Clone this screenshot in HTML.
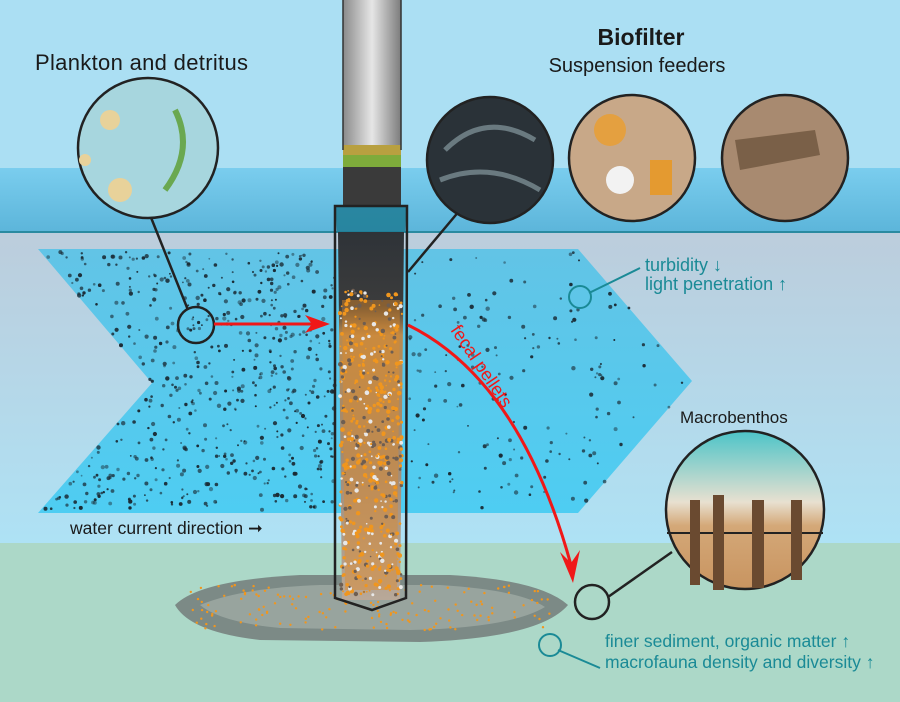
<!DOCTYPE html>
<html><head><meta charset="utf-8"><style>
body{margin:0;width:900px;height:702px;overflow:hidden;font-family:"Liberation Sans",sans-serif}
svg{display:block}
</style></head><body>
<svg id="s" width="900" height="702" viewBox="0 0 900 702" xmlns="http://www.w3.org/2000/svg">
<defs>
<linearGradient id="wat" x1="0" y1="0" x2="0" y2="1"><stop offset="0" stop-color="#bccddc"/><stop offset="1" stop-color="#aee2f5"/></linearGradient>
<linearGradient id="band" x1="0" y1="0" x2="0" y2="1"><stop offset="0" stop-color="#7acdee"/><stop offset="1" stop-color="#5cb5da"/></linearGradient>
<linearGradient id="arr" x1="0" y1="0" x2="0" y2="1"><stop offset="0" stop-color="#62c4e6"/><stop offset="1" stop-color="#4ecdf2"/></linearGradient>
<linearGradient id="pile" x1="0" y1="0" x2="1" y2="0"><stop offset="0" stop-color="#8a8a8a"/><stop offset=".5" stop-color="#e6e6e6"/><stop offset="1" stop-color="#7c7c7c"/></linearGradient>
<linearGradient id="fill" x1="0" y1="0" x2="0" y2="1"><stop offset="0" stop-color="#2e3338"/><stop offset=".2" stop-color="#3c3c3c"/><stop offset=".28" stop-color="#b88a50"/><stop offset=".6" stop-color="#a08a74"/><stop offset="1" stop-color="#b8a898"/></linearGradient>
<linearGradient id="mb" x1="0" y1="0" x2="0" y2="1"><stop offset="0" stop-color="#4cc4c8"/><stop offset=".45" stop-color="#e8e0d0"/><stop offset=".6" stop-color="#d4a878"/><stop offset="1" stop-color="#c89460"/></linearGradient>
</defs>
<rect width="900" height="702" fill="#abdff3"/>
<rect y="168" width="900" height="64" fill="url(#band)"/>
<rect y="232" width="900" height="312" fill="url(#wat)"/>
<line x1="0" y1="232" x2="900" y2="232" stroke="#2a8aa0" stroke-width="2"/>
<rect y="543" width="900" height="160" fill="#acd8c8"/>
<polygon points="38,249 578,249 692,381 578,513 38,513 152,383" fill="url(#arr)"/>
<g id="dots"></g>
<!-- rubble -->
<path d="M175 605 Q200 580 300 575 L450 575 Q540 580 568 605 Q540 638 420 642 L260 640 Q190 632 175 605 Z" fill="#7c8a86"/>
<path d="M200 605 Q240 588 320 585 L440 585 Q520 590 545 607 Q510 628 410 630 L280 628 Q220 622 200 605 Z" fill="#98a49e"/>
<g id="orng"></g>
<!-- pile -->
<rect x="343" y="0" width="58" height="150" fill="url(#pile)"/>
<rect x="343" y="145" width="58" height="25" fill="#b8a040"/>
<rect x="343" y="155" width="58" height="12" fill="#6fae3a" opacity=".8"/>
<rect x="343" y="167" width="58" height="40" fill="#3a3a3a"/>
<polygon points="335,206 407,206 405,232 337,232" fill="#1f7d95" opacity=".85"/>
<polygon points="338,232 404,232 400,600 342,600" fill="url(#fill)"/>
<polygon points="342,300 400,300 397,590 345,590" fill="#e08a28" opacity=".45"/>
<polygon points="335,206 407,206 406,598 372,610 335,598" fill="none" stroke="#222" stroke-width="2.5"/>
<line x1="343" y1="0" x2="343" y2="150" stroke="#333" stroke-width="1.5"/>
<line x1="401" y1="0" x2="401" y2="150" stroke="#333" stroke-width="1.5"/>
<!-- connector lines -->
<line x1="150" y1="215" x2="188" y2="310" stroke="#222" stroke-width="2.5"/>
<line x1="408" y1="272" x2="460" y2="210" stroke="#222" stroke-width="2.5"/>
<line x1="608" y1="597" x2="672" y2="552" stroke="#222" stroke-width="2.5"/>
<line x1="589" y1="293" x2="640" y2="268" stroke="#1a8a96" stroke-width="2"/>
<line x1="558" y1="650" x2="600" y2="668" stroke="#1a8a96" stroke-width="2"/>
<!-- circles -->
<circle cx="148" cy="148" r="70" fill="#a7d6de" stroke="#222" stroke-width="2.5"/>
<circle cx="110" cy="120" r="10" fill="#e8d29a"/><circle cx="120" cy="190" r="12" fill="#e8d29a"/><circle cx="85" cy="160" r="6" fill="#e8d29a"/>
<path d="M175 110 q20 40 -10 80" stroke="#6aa850" stroke-width="6" fill="none"/>
<circle cx="490" cy="160" r="63" fill="#2a3238" stroke="#222" stroke-width="2.5"/>
<path d="M445 150 q40 -40 90 -10 M440 180 q50 -20 100 10" stroke="#6a7a80" stroke-width="5" fill="none"/>
<circle cx="632" cy="158" r="63" fill="#c8a888" stroke="#222" stroke-width="2.5"/>
<circle cx="610" cy="130" r="16" fill="#e4a040"/><rect x="650" y="160" width="22" height="35" fill="#e49a30"/><circle cx="620" cy="180" r="14" fill="#f2f2f2"/>
<circle cx="785" cy="158" r="63" fill="#a88a70" stroke="#222" stroke-width="2.5"/>
<path d="M735 140 l80 -10 l5 25 l-80 15 z" fill="#7a6048"/>
<circle cx="745" cy="510" r="79" fill="url(#mb)" stroke="#222" stroke-width="2.5"/>
<line x1="667" y1="533" x2="823" y2="533" stroke="#222" stroke-width="2"/>
<g fill="#6a4a30"><rect x="690" y="500" width="10" height="85"/><rect x="713" y="495" width="11" height="95"/><rect x="752" y="500" width="12" height="88"/><rect x="791" y="500" width="11" height="80"/></g>
<circle cx="196" cy="325" r="18" fill="none" stroke="#222" stroke-width="2.5"/>
<circle cx="592" cy="602" r="17" fill="none" stroke="#222" stroke-width="2.5"/>
<circle cx="580" cy="297" r="11" fill="none" stroke="#1a8a96" stroke-width="2"/>
<circle cx="550" cy="645" r="11" fill="none" stroke="#1a8a96" stroke-width="2"/>
<!-- red arrows -->
<line x1="214" y1="324" x2="315" y2="324" stroke="#f01818" stroke-width="3"/>
<polygon points="330,324 305,315 312,324 305,333" fill="#f01818"/>
<path d="M408 325 Q520 380 571 565" stroke="#f01818" stroke-width="3" fill="none"/>
<polygon points="573,583 560,552 571,563 580,550" fill="#f01818"/>
<text x="0" y="0" font-size="18" fill="#f01818" transform="translate(450,330) rotate(56)">fecal pellets</text>
<!-- texts -->
<text x="35" y="70" font-size="22" fill="#1a1a1a" textLength="213">Plankton and detritus</text>
<text x="641" y="45" font-size="23" font-weight="bold" fill="#1a1a1a" text-anchor="middle">Biofilter</text>
<text x="637" y="72" font-size="20" fill="#1a1a1a" text-anchor="middle">Suspension feeders</text>
<text x="645" y="271" font-size="18" fill="#1a8a96">turbidity ↓</text>
<text x="645" y="290" font-size="18" fill="#1a8a96">light penetration ↑</text>
<text x="680" y="423" font-size="17" fill="#1a1a1a">Macrobenthos</text>
<text x="605" y="647" font-size="17.5" fill="#1a8a96">finer sediment, organic matter ↑</text>
<text x="605" y="668" font-size="17.5" fill="#1a8a96">macrofauna density and diversity ↑</text>
<text x="70" y="534" font-size="17.5" fill="#1a1a1a">water current direction ➞</text>
</svg>
<script>
var g=document.getElementById('dots'),s=12345,h='';
function r(){s=(s*16807)%2147483647;return s/2147483647;}
for(var i=0;i<1600;i++){var x=40+r()*650,y=252+r()*258;
if(x<152){var d=(x-38)/114*134; if(y>249+d && y<517-d) continue;}
if(x>578){var d2=(x-578)/114*132; if(y<249+d2||y>513-d2) continue;}
if(x>335&&x<408)continue;
if(x>408 && r()>0.3)continue;
h+='<circle cx="'+x.toFixed(1)+'" cy="'+y.toFixed(1)+'" r="'+(0.9+r()*1.3).toFixed(1)+'" fill="#1a2a34" opacity="'+(0.45+r()*0.55).toFixed(2)+'"/>';}
g.innerHTML=h;
var o='';for(var j=0;j<600;j++){var x=340+r()*62,y=290+r()*305;o+='<circle cx="'+x.toFixed(1)+'" cy="'+y.toFixed(1)+'" r="'+(0.8+r()*1.5).toFixed(1)+'" fill="'+(r()<0.6?'#f0961e':(r()<0.5?'#6e5e52':'#e8e8e8'))+'"/>';}
for(var k=0;k<150;k++){var x=190+r()*360,y=585+r()*45;o+='<circle cx="'+x.toFixed(1)+'" cy="'+y.toFixed(1)+'" r="1.2" fill="#f0961e"/>';}
document.getElementById('orng').innerHTML=o;
var gg=document.createElementNS('http://www.w3.org/2000/svg','g');gg.innerHTML=o.split('<circle').slice(0,601).join('<circle');
document.getElementById('s').insertBefore(gg,document.querySelector('polygon[points="335,206 407,206 406,598 372,610 335,598"]'));
</script>
</body></html>
